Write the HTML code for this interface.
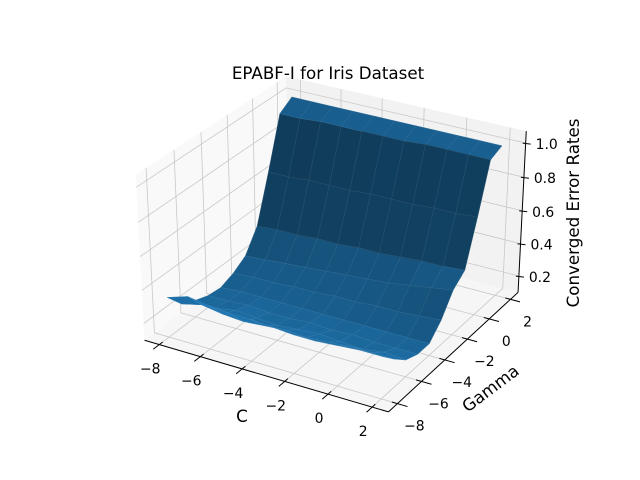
<!DOCTYPE html>
<html><head><meta charset="utf-8"><style>
html,body{margin:0;padding:0;background:#fff;}
svg{display:block;font-family:"DejaVu Sans","Liberation Sans",sans-serif;}
</style></head><body>
<svg id="chart" width="640" height="480" viewBox="0 0 640 480" xmlns="http://www.w3.org/2000/svg">
<rect width="640" height="480" fill="#fff"/>
<g id="panes"></g>
<g id="grid"></g>
<g id="axes"></g>
<g id="surface"></g>
<text x="328" y="79" font-size="16.7" text-anchor="middle">EPABF-I for Iris Dataset</text>
<text x="242" y="422" font-size="16.7" text-anchor="middle">C</text>
<text x="0" y="0" font-size="16.7" text-anchor="middle" transform="translate(494,393) rotate(-37)">Gamma</text>
<text x="0" y="0" font-size="16.7" text-anchor="middle" transform="translate(579,213) rotate(-90)">Converged Error Rates</text>
</svg>
<script>
const cValues=[-8,-7,-6,-5,-4,-3,-2,-1,0,1,2];
const gammaValues=[-8,-7,-6,-5,-4,-3,-2,-1,0,1,2];
const zRowM8=[0.34,0.38,0.36,0.35,0.35,0.34,0.33,0.33,0.34,0.35,0.35];
const zRowM7=[0.24,0.27,0.25,0.24,0.25,0.26,0.25,0.26,0.27,0.27,0.27];
const zRowM6=[0.20,0.19,0.21,0.20,0.19,0.20,0.21,0.20,0.19,0.21,0.20];
const zRowM5=[0.17,0.17,0.18,0.17,0.17,0.18,0.17,0.18,0.17,0.17,0.17];
const zRowM4=[0.16,0.17,0.17,0.17,0.17,0.17,0.17,0.17,0.17,0.17,0.17];
const zRowM3=[0.19,0.20,0.20,0.21,0.21,0.22,0.22,0.23,0.23,0.24,0.25];
const zRowM2=[0.24,0.25,0.26,0.27,0.28,0.29,0.30,0.31,0.33,0.35,0.37];
const zRowM1=[0.37,0.38,0.38,0.39,0.39,0.40,0.40,0.41,0.42,0.42,0.43];
const zRow0=[0.65,0.65,0.66,0.66,0.66,0.67,0.67,0.67,0.68,0.68,0.69];
const zRow1=[0.95,0.95,0.96,0.96,0.96,0.96,0.96,0.97,0.97,0.97,0.97];
const zRow2=[1.0,1.0,1.0,1.0,1.0,1.0,1.0,1.0,1.0,1.0,1.0];
const zRows=[zRowM8,zRowM7,zRowM6,zRowM5,zRowM4,zRowM3,zRowM2,zRowM1,zRow0,zRow1,zRow2];
const xTicks=[-8,-6,-4,-2,0,2];
const yTicks=[-8,-6,-4,-2,0,2];
const zTicks=[0.2,0.4,0.6,0.8,1.0];
const xTickLabels=["\u22128","\u22126","\u22124","\u22122","0","2"];
const yTickLabels=["\u22128","\u22126","\u22124","\u22122","0","2"];
const zTickLabels=["0.2","0.4","0.6","0.8","1.0"];
const xLim=[-8.5,2.5], yLim=[-8.5,2.5], zLim=[0.1175,1.0495];

const NS="http://www.w3.org/2000/svg";
// matplotlib-like perspective projection
const an=Math.hypot(4,4,3), AS=[4*1.8294640721620434/an,4*1.8294640721620434/an,3*1.8294640721620434/an];
const el=30*Math.PI/180, az=-60*Math.PI/180, dist=10;
const R=[AS[0]/2,AS[1]/2,AS[2]/2];
const nv=[Math.cos(az)*Math.cos(el),Math.sin(az)*Math.cos(el),Math.sin(el)];
const E=[R[0]+dist*nv[0],R[1]+dist*nv[1],R[2]+dist*nv[2]];
let uv=[-nv[1],nv[0],0];const ul=Math.hypot(uv[0],uv[1]);uv=[uv[0]/ul,uv[1]/ul,0];
const vv=[nv[1]*uv[2]-nv[2]*uv[1],nv[2]*uv[0]-nv[0]*uv[2],nv[0]*uv[1]-nv[1]*uv[0]];
function raw(x,y,z){
  const p=[(x-xLim[0])/(xLim[1]-xLim[0])*AS[0],(y-yLim[0])/(yLim[1]-yLim[0])*AS[1],(z-zLim[0])/(zLim[1]-zLim[0])*AS[2]];
  const q=[p[0]-E[0],p[1]-E[1],p[2]-E[2]];
  const xv=uv[0]*q[0]+uv[1]*q[1]+uv[2]*q[2];
  const yv=vv[0]*q[0]+vv[1]*q[1]+vv[2]*q[2];
  const w=-(nv[0]*q[0]+nv[1]*q[1]+nv[2]*q[2]);
  return [xv/w,yv/w,w];
}
const dx=(xLim[1]-xLim[0])/48, dy=(yLim[1]-yLim[0])/48, dz=(zLim[1]-zLim[0])/48;
const xP=[xLim[0]-dx,xLim[1]+dx], yP=[yLim[0]-dy,yLim[1]+dy], zP=[zLim[0]-dz,zLim[1]+dz];
// calibration to screen
const cal=[[xP[0],yP[0],zP[0],145,344],[xP[1],yP[0],zP[0],388,404],[xP[1],yP[1],zP[0],518,307],[xP[1],yP[1],zP[1],527,127],[xP[0],yP[0],zP[1],136,162],[xP[0],yP[1],zP[1],285,83]];
function fit(a,b){const n=a.length;const ma=a.reduce((s,v)=>s+v,0)/n, mb=b.reduce((s,v)=>s+v,0)/n;let num=0,den=0;for(let i=0;i<n;i++){num+=(a[i]-ma)*(b[i]-mb);den+=(a[i]-ma)*(a[i]-ma);}const s=num/den;return [s,mb-s*ma];}
const cr=cal.map(c=>raw(c[0],c[1],c[2]));
const fx=fit(cr.map(r=>r[0]),cal.map(c=>c[3]));
const fy=fit(cr.map(r=>r[1]),cal.map(c=>c[4]));
function P(x,y,z){const r=raw(x,y,z);return [fx[0]*r[0]+fx[1],fy[0]*r[1]+fy[1],r[2]];}
function pts(list){return list.map(p=>{const s=P(p[0],p[1],p[2]);return s[0].toFixed(2)+","+s[1].toFixed(2);}).join(" ");}

const panes=document.getElementById('panes');
function addPoly(g,list,fill,name){const e=document.createElementNS(NS,'polygon');e.setAttribute('points',pts(list));e.setAttribute('fill',fill);


g.appendChild(e);return e;}
addPoly(panes,[[xP[0],yP[0],zP[0]],[xP[1],yP[0],zP[0]],[xP[1],yP[1],zP[0]],[xP[0],yP[1],zP[0]]],'#f6f6f6','floor-pane');
addPoly(panes,[[xP[0],yP[0],zP[0]],[xP[0],yP[1],zP[0]],[xP[0],yP[1],zP[1]],[xP[0],yP[0],zP[1]]],'#f9f9f9','left-pane');
addPoly(panes,[[xP[0],yP[1],zP[0]],[xP[1],yP[1],zP[0]],[xP[1],yP[1],zP[1]],[xP[0],yP[1],zP[1]]],'#f2f2f2','back-pane');

const grid=document.getElementById('grid');
function addLine(g,list,stroke,w,name){const e=document.createElementNS(NS,'polyline');e.setAttribute('points',pts(list));e.setAttribute('fill','none');e.setAttribute('stroke',stroke);e.setAttribute('stroke-width',w);


g.appendChild(e);return e;}
xTicks.forEach(t=>addLine(grid,[[t,yP[0],zP[0]],[t,yP[1],zP[0]],[t,yP[1],zP[1]]],'#c8c8c8',0.8,'x-gridline'));
yTicks.forEach(t=>addLine(grid,[[xP[1],t,zP[0]],[xP[0],t,zP[0]],[xP[0],t,zP[1]]],'#c8c8c8',0.8,'y-gridline'));
zTicks.forEach(t=>addLine(grid,[[xP[0],yP[0],t],[xP[0],yP[1],t],[xP[1],yP[1],t]],'#c8c8c8',0.8,'z-gridline'));

const axes=document.getElementById('axes');
addLine(axes,[[xP[0],yP[0],zP[0]],[xP[1],yP[0],zP[0]]],'#000',1,'x-axis-line');
addLine(axes,[[xP[1],yP[0],zP[0]],[xP[1],yP[1],zP[0]]],'#000',1,'y-axis-line');
addLine(axes,[[xP[1],yP[1],zP[0]],[xP[1],yP[1],zP[1]]],'#000',1,'z-axis-line');
function addText(g,x,y,s,name){const e=document.createElementNS(NS,'text');e.setAttribute('x',x.toFixed(1));e.setAttribute('y',y.toFixed(1));e.setAttribute('font-size','13.9');e.setAttribute('text-anchor','middle');e.setAttribute('dominant-baseline','central');e.textContent=s;


g.appendChild(e);}
xTicks.forEach((t,i)=>{addLine(axes,[[t,yP[0]+0.25,zP[0]],[t,yP[0]-0.45,zP[0]]],'#000',1,'x-tick');const s=P(t,yP[0],zP[0]);addText(axes,s[0]-9,s[1]+25,xTickLabels[i],'x-tick-label');});
yTicks.forEach((t,i)=>{addLine(axes,[[xP[1]-0.25,t,zP[0]],[xP[1]+0.45,t,zP[0]]],'#000',1,'y-tick');const s=P(xP[1],t,zP[0]);addText(axes,s[0]+17,s[1]+23,yTickLabels[i],'y-tick-label');});
zTicks.forEach((t,i)=>{const s=P(xP[1],yP[1],t);const l=document.createElementNS(NS,'line');l.setAttribute('x1',(s[0]-3).toFixed(1));l.setAttribute('x2',(s[0]+5).toFixed(1));l.setAttribute('y1',s[1].toFixed(1));l.setAttribute('y2',(s[1]+1).toFixed(1));l.setAttribute('stroke','#000');


axes.appendChild(l);addText(axes,s[0]+21,s[1]+2,zTickLabels[i],'z-tick-label');});

// surface
const L=[-0.6667,-0.6667,0.3333];
const faces=[];
for(let r=0;r<gammaValues.length-1;r++){for(let c=0;c<cValues.length-1;c++){
  const p=[[cValues[c],gammaValues[r],zRows[r][c]],[cValues[c+1],gammaValues[r],zRows[r][c+1]],[cValues[c+1],gammaValues[r+1],zRows[r+1][c+1]],[cValues[c],gammaValues[r+1],zRows[r+1][c]]];
  const v1=[p[0][0]-p[1][0],p[0][1]-p[1][1],p[0][2]-p[1][2]], v2=[p[1][0]-p[2][0],p[1][1]-p[2][1],p[1][2]-p[2][2]];
  const n=[v1[1]*v2[2]-v1[2]*v2[1],v1[2]*v2[0]-v1[0]*v2[2],v1[0]*v2[1]-v1[1]*v2[0]];
  const sh=-(n[0]*L[0]+n[1]*L[1]+n[2]*L[2])/Math.hypot(n[0],n[1],n[2]);
  const depth=p.reduce((s,q)=>s+P(q[0],q[1],q[2])[2],0)/4;
  faces.push({p,sh,depth});
}}
const smin=Math.min(...faces.map(f=>f.sh)), smax=Math.max(...faces.map(f=>f.sh));
faces.sort((a,b)=>b.depth-a.depth);
const surf=document.getElementById('surface');
faces.forEach(f=>{const k=0.5+0.5*(smax>smin?(f.sh-smin)/(smax-smin):1);
  const col='rgb('+Math.round(31*k)+','+Math.round(119*k)+','+Math.round(180*k)+')';
  const e=addPoly(surf,f.p,col,'surface-face');e.setAttribute('stroke',col);e.setAttribute('stroke-width','0.6');e.setAttribute('stroke-linejoin','round');
  const o=addPoly(surf,f.p,'none','surface-face-edge');o.setAttribute('stroke','rgba(255,255,255,0.12)');o.setAttribute('stroke-width','0.5');
});
</script>
</body></html>
